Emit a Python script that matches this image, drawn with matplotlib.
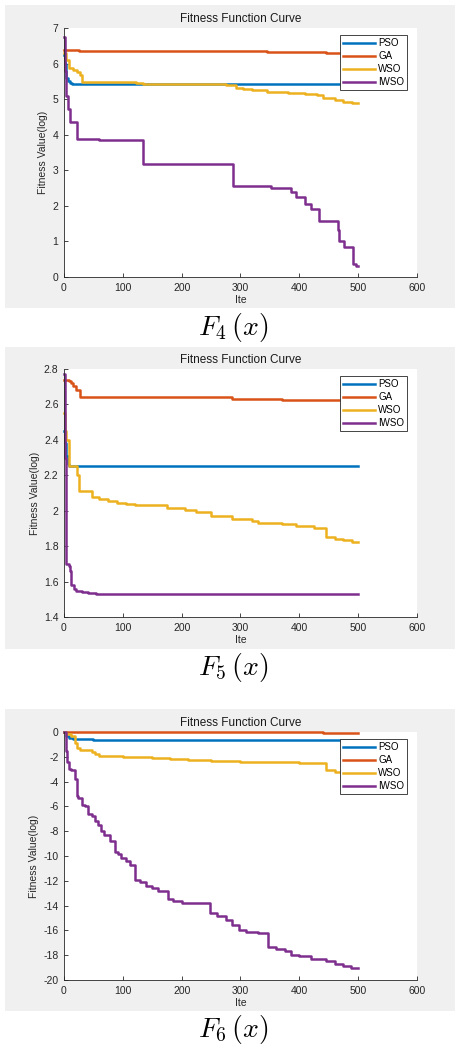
import matplotlib
matplotlib.use('Agg')
import matplotlib.pyplot as plt
from matplotlib.patches import Rectangle
from matplotlib.ticker import FormatStrFormatter

plt.rcParams['font.family'] = ['Liberation Sans', 'DejaVu Sans']
plt.rcParams['mathtext.fontset'] = 'cm'

# Series names and colors (MATLAB default order)
names = ['PSO', 'GA', 'WSO', 'IWSO']
colors = ['#0072BD', '#D95319', '#EDB120', '#7E2F8E']

# ---- F4 data: (iteration, log fitness) breakpoints ----
pso4_it = [0, 2, 4, 7, 10, 14, 500]
pso4_val = [6.25, 6.0, 5.6, 5.5, 5.45, 5.42, 5.42]
ga4_it = [0, 25, 345, 445, 500]
ga4_val = [6.39, 6.35, 6.32, 6.29, 6.29]
wso4_it = [0, 3, 8, 15, 22, 27, 31, 122, 135, 275, 293, 305, 320, 345, 380, 410, 430, 440, 460, 475, 490, 500]
wso4_val = [6.3, 6.1, 5.88, 5.82, 5.75, 5.68, 5.49, 5.44, 5.42, 5.40, 5.32, 5.28, 5.25, 5.21, 5.18, 5.15, 5.12, 5.03, 4.98, 4.93, 4.89, 4.88]
iwso4_it = [0, 2, 4, 7, 11, 22, 60, 134, 288, 352, 385, 395, 410, 420, 433, 465, 468, 476, 491, 496, 500]
iwso4_val = [6.75, 5.8, 5.1, 4.72, 4.35, 3.87, 3.85, 3.17, 2.57, 2.51, 2.38, 2.25, 2.04, 1.92, 1.58, 1.32, 1.0, 0.83, 0.37, 0.3, 0.3]

# ---- F5 data ----
pso5_it = [0, 2, 4, 6, 8, 500]
pso5_val = [2.45, 2.38, 2.31, 2.265, 2.255, 2.255]
ga5_it = [0, 8, 12, 16, 20, 28, 286, 371, 500]
ga5_val = [2.74, 2.73, 2.72, 2.705, 2.68, 2.64, 2.633, 2.625, 2.625]
wso5_it = [0, 2, 4, 8, 22, 25, 47, 60, 75, 90, 105, 120, 160, 175, 205, 225, 250, 285, 320, 330, 370, 395, 425, 446, 460, 475, 490, 500]
wso5_val = [2.55, 2.45, 2.4, 2.25, 2.2, 2.11, 2.077, 2.065, 2.055, 2.045, 2.04, 2.035, 2.03, 2.015, 2.005, 1.99, 1.968, 1.953, 1.94, 1.93, 1.925, 1.912, 1.905, 1.85, 1.84, 1.832, 1.825, 1.825]
iwso5_it = [0, 1, 3, 8, 10, 12, 17, 20, 30, 40, 55, 500]
iwso5_val = [2.77, 2.3, 1.7, 1.69, 1.66, 1.58, 1.56, 1.548, 1.54, 1.535, 1.53, 1.53]

# ---- F6 data ----
pso6_it = [0, 3, 8, 15, 50, 500]
pso6_val = [0.0, -0.3, -0.5, -0.6, -0.65, -0.65]
ga6_it = [0, 440, 500]
ga6_val = [0.0, -0.08, -0.08]
wso6_it = [0, 3, 12, 18, 22, 28, 47, 52, 60, 80, 100, 150, 180, 210, 250, 300, 350, 400, 446, 460, 500]
wso6_val = [0.0, -0.15, -0.3, -0.9, -1.3, -1.45, -1.6, -1.8, -1.9, -1.95, -2.0, -2.1, -2.2, -2.25, -2.3, -2.38, -2.45, -2.52, -3.1, -3.2, -3.2]
iwso6_it = [0, 3, 5, 8, 12, 18, 22, 24, 31, 35, 41, 47, 52, 58, 63, 68, 78, 87, 92, 97, 105, 113, 121, 130, 140, 150, 160, 177, 185, 200, 220, 248, 260, 275, 285, 297, 310, 330, 347, 360, 375, 385, 400, 420, 445, 460, 475, 487, 500]
iwso6_val = [0.0, -1.5, -2.4, -3.0, -3.1, -3.8, -5.2, -5.3, -5.9, -6.0, -6.6, -6.8, -7.2, -7.5, -8.0, -8.3, -8.8, -9.7, -9.8, -10.2, -10.4, -10.7, -11.9, -12.1, -12.4, -12.6, -12.85, -13.5, -13.65, -13.75, -13.8, -14.6, -14.8, -15.2, -15.6, -15.95, -16.1, -16.2, -17.35, -17.5, -17.7, -17.95, -18.1, -18.3, -18.45, -18.7, -18.85, -19.05, -19.05]

panels = [
    {'series': [(pso4_it, pso4_val), (ga4_it, ga4_val), (wso4_it, wso4_val), (iwso4_it, iwso4_val)],
     'ylim': (0, 7), 'yticks': [0, 1, 2, 3, 4, 5, 6, 7], 'caption': r'$F_4\,(x)$',
     'grey': (5, 308), 'axes': (28, 277), 'cap_y': 327},
    {'series': [(pso5_it, pso5_val), (ga5_it, ga5_val), (wso5_it, wso5_val), (iwso5_it, iwso5_val)],
     'ylim': (1.4, 2.8), 'yticks': [1.4, 1.6, 1.8, 2.0, 2.2, 2.4, 2.6, 2.8], 'caption': r'$F_5\,(x)$',
     'grey': (347, 649), 'axes': (369, 617), 'cap_y': 668},
    {'series': [(pso6_it, pso6_val), (ga6_it, ga6_val), (wso6_it, wso6_val), (iwso6_it, iwso6_val)],
     'ylim': (-20, 0), 'yticks': list(range(-20, 1, 2)), 'caption': r'$F_6\,(x)$',
     'grey': (709, 1011), 'axes': (732, 980), 'cap_y': 1030},
]

W, H = 456, 1047
fig = plt.figure(figsize=(W / 100, H / 100), dpi=100, facecolor='white')
axc = '#262626'

for p in panels:
    g0, g1 = p['grey']
    fig.patches.append(Rectangle((5 / W, 1 - g1 / H), (W - 5) / W, (g1 - g0) / H,
                                 transform=fig.transFigure, facecolor='#f0f0f0',
                                 edgecolor='none', zorder=-5))
    a0, a1 = p['axes']
    ax = fig.add_axes([64 / W, 1 - a1 / H, (417 - 64) / W, (a1 - a0) / H])
    ax.set_zorder(1)
    for (it, val), name, c in zip(p['series'], names, colors):
        ax.step(it, val, where='post', color=c, lw=1.8, label=name, clip_on=False)
    ax.set_xlim(0, 600)
    ax.set_ylim(*p['ylim'])
    ax.set_xticks(range(0, 601, 100))
    ax.set_yticks(p['yticks'])
    ax.yaxis.set_major_formatter(FormatStrFormatter('%g'))
    for s in ['top', 'right']:
        ax.spines[s].set_visible(False)
    for s in ['left', 'bottom']:
        ax.spines[s].set_color(axc)
        ax.spines[s].set_linewidth(0.6)
    ax.tick_params(direction='in', length=3, width=0.6, colors=axc, labelsize=7.5, pad=4)
    ax.set_title('Fitness Function Curve', fontsize=8.5, color='#1a1a1a', pad=4)
    ax.set_xlabel('Ite', fontsize=7.5, color=axc, labelpad=2)
    ax.set_ylabel('Fitness Value(log)', fontsize=7.5, color=axc, labelpad=3)
    leg = ax.legend(loc='upper right', bbox_to_anchor=(0.972, 0.97), borderaxespad=0,
                    fontsize=7, handlelength=3.3, handletextpad=0.3, labelspacing=0.3,
                    borderpad=0.3, fancybox=False, framealpha=1)
    leg.get_frame().set_edgecolor(axc)
    leg.get_frame().set_linewidth(0.6)
    leg.set_zorder(5)
    fig.text(233 / W, 1 - p['cap_y'] / H, p['caption'], fontsize=20,
             ha='center', va='center')

fig.savefig('out.png', dpi=100, facecolor='white')
